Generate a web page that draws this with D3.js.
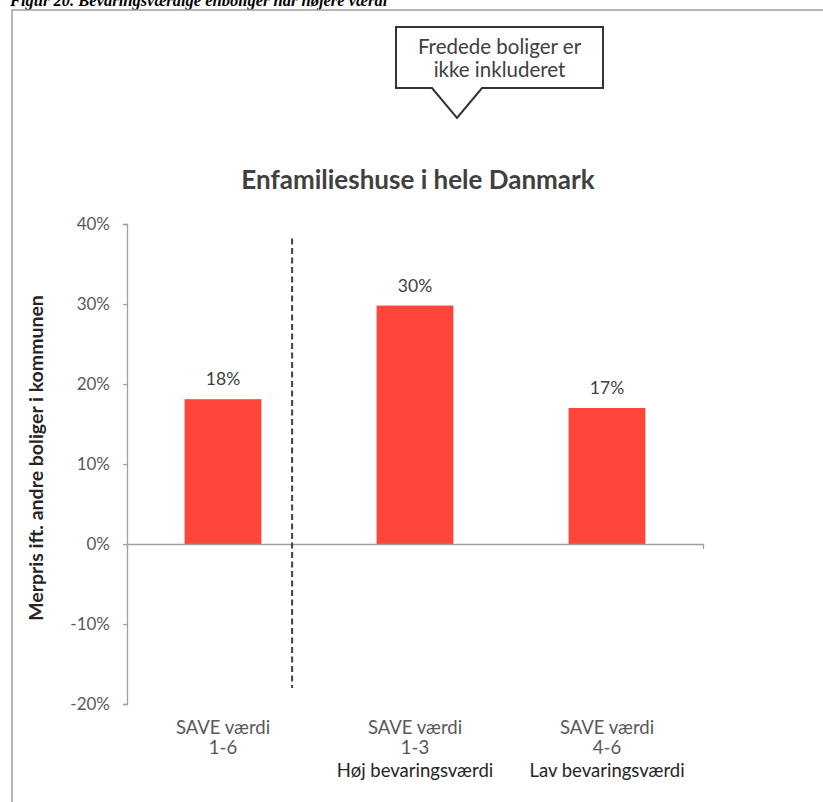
<!DOCTYPE html>
<html>
<head>
<meta charset="utf-8">
<script src="https://cdn.jsdelivr.net/npm/d3@7"></script>
<style>
  body { margin: 0; background: #fff; }
  svg { display: block; }
</style>
</head>
<body>
<div id="chart"></div>
<script>
// chart data
const categoryNames = ["SAVE værdi", "SAVE værdi", "SAVE værdi"];
const categoryRanges = ["1-6", "1-3", "4-6"];
const categoryNotes = ["", "Høj bevaringsværdi", "Lav bevaringsværdi"];
const values = [0.181, 0.298, 0.170];
const valueLabels = ["18%", "30%", "17%"];
const yTicks = [-0.2, -0.1, 0, 0.1, 0.2, 0.3, 0.4];
const yTickLabels = ["-20%", "-10%", "0%", "10%", "20%", "30%", "40%"];
const calloutLines = ["Fredede boliger er", "ikke inkluderet"];

const width = 823, height = 802;
const margin = { top: 224, right: 120, bottom: 98, left: 127 };
const font = "Lato, 'Open Sans', sans-serif";

const svg = d3.select("#chart")
    .append("svg")
    .attr("width", width)
    .attr("height", height);

svg.append("rect")
    .attr("width", width)
    .attr("height", height)
    .attr("fill", "#fff");

// figure caption (clipped at the top of the page)
svg.append("text")
    .attr("x", 10)
    .attr("y", 6)
    .attr("font-family", "'Liberation Serif', serif")
    .attr("font-weight", "bold")
    .attr("font-style", "italic")
    .attr("font-size", 16.5)
    .attr("fill", "#000")
    .text("Figur 20. Bevaringsværdige enboliger har højere værdi");

// frame
svg.append("path")
    .attr("d", `M12,${height}V10H${width}`)
    .attr("fill", "none")
    .attr("stroke", "#a0a0a0")
    .attr("stroke-width", 1.5);

// scales
const x = d3.scaleBand()
    .domain(values.map((_, i) => i))
    .range([margin.left, width - margin.right])
    .padding(0);

const y = d3.scaleLinear()
    .domain([-0.2, 0.4])
    .range([height - margin.bottom, margin.top]);

const barWidth = x.bandwidth() * 0.4;

// y axis
const yAxis = svg.append("g")
    .attr("transform", `translate(${margin.left},0)`)
    .call(d3.axisLeft(y).tickValues(yTicks).tickSize(4).tickSizeOuter(4)
        .tickFormat((d, i) => yTickLabels[i]));
yAxis.selectAll("path, line").attr("stroke", "#a0a0a0").attr("stroke-width", 1.3);
yAxis.selectAll("text")
    .attr("x", -17)
    .attr("font-family", font)
    .attr("font-size", 17)
    .attr("fill", "#595959");

// bars
svg.selectAll(".bar")
    .data(values)
    .join("rect")
    .attr("class", "bar")
    .attr("x", (d, i) => x(i) + x.bandwidth() / 2 - barWidth / 2)
    .attr("width", barWidth)
    .attr("y", d => y(Math.max(0, d)))
    .attr("height", d => Math.abs(y(d) - y(0)))
    .attr("fill", "#ff443a");

// x axis at zero
const xAxis = svg.append("g")
    .attr("transform", `translate(0,${y(0)})`)
    .call(d3.axisBottom(x).tickSize(0).tickSizeOuter(5).tickFormat(""));
xAxis.select("path").attr("stroke", "#a0a0a0").attr("stroke-width", 1.3);

// dashed divider
const divX = x(0) + x.step() * 0.86;
svg.append("line")
    .attr("x1", divX).attr("x2", divX)
    .attr("y1", y(0.382)).attr("y2", y(-0.18))
    .attr("stroke", "#404040")
    .attr("stroke-width", 2)
    .attr("stroke-dasharray", "6,3.5");

// value labels
svg.selectAll(".vlabel")
    .data(values)
    .join("text")
    .attr("class", "vlabel")
    .attr("x", (d, i) => x(i) + x.bandwidth() / 2)
    .attr("y", d => y(d) - 14)
    .attr("text-anchor", "middle")
    .attr("font-family", font)
    .attr("font-size", 17.5)
    .attr("fill", "#404040")
    .text((d, i) => valueLabels[i]);

// category labels
const cat = svg.selectAll(".cat")
    .data(values)
    .join("g")
    .attr("class", "cat")
    .attr("transform", (d, i) => `translate(${x(i) + x.bandwidth() / 2},0)`)
    .attr("text-anchor", "middle")
    .attr("font-family", font)
    .attr("font-size", 18.5);
cat.append("text").attr("y", 734).attr("fill", "#595959").text((d, i) => categoryNames[i]);
cat.append("text").attr("y", 754).attr("fill", "#595959").text((d, i) => categoryRanges[i]);
cat.append("text").attr("y", 777).attr("fill", "#262626").text((d, i) => categoryNotes[i]);

// chart title
svg.append("text")
    .attr("x", 418)
    .attr("y", 189)
    .attr("text-anchor", "middle")
    .attr("font-family", font)
    .attr("font-weight", "bold")
    .attr("font-size", 26)
    .attr("fill", "#404040")
    .text("Enfamilieshuse i hele Danmark");

// y axis title
svg.append("text")
    .attr("transform", `translate(43,${y(0.1) - 6}) rotate(-90)`)
    .attr("text-anchor", "middle")
    .attr("font-family", font)
    .attr("font-weight", "bold")
    .attr("font-size", 19.5)
    .attr("fill", "#262626")
    .text("Merpris ift. andre boliger i kommunen");

// callout
const box = { left: 396, right: 603, top: 27, bottom: 88, p1: 432, p2: 482, tipX: 457, tipY: 118 };
svg.append("path")
    .attr("d", `M${box.left},${box.top}H${box.right}V${box.bottom}H${box.p2}L${box.tipX},${box.tipY}L${box.p1},${box.bottom}H${box.left}Z`)
    .attr("fill", "#fff")
    .attr("stroke", "#333")
    .attr("stroke-width", 2);

svg.selectAll(".callout")
    .data(calloutLines)
    .join("text")
    .attr("class", "callout")
    .attr("x", (box.left + box.right) / 2)
    .attr("y", (d, i) => 54 + i * 23)
    .attr("text-anchor", "middle")
    .attr("font-family", font)
    .attr("font-size", 20.5)
    .attr("fill", "#404040")
    .text(d => d);
</script>
</body>
</html>
